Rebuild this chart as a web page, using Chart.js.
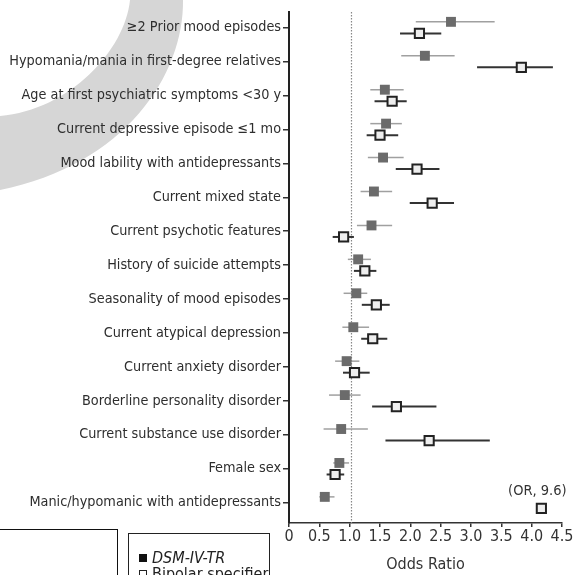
<!DOCTYPE html>
<html>
<head>
<meta charset="utf-8">
<script src="https://cdn.jsdelivr.net/npm/chart.js@4"></script>
<style>
  body { margin: 0; background: #fff; overflow: hidden; }
  #wrap { position: relative; width: 574px; height: 575px; overflow: hidden; }
  .box1 { position: absolute; left: 0; top: 529px; width: 117px; height: 60px; border-top: 1.5px solid #111; border-right: 1.5px solid #111; }
  .legend { position: absolute; left: 128px; top: 533px; width: 140px; height: 60px; border: 1.5px solid #222;
    font-family: "DejaVu Sans Condensed", "Liberation Sans Narrow", sans-serif; font-size: 16px; line-height: 15px; color: #222; }
  .legend div { position: absolute; left: 10px; white-space: nowrap; }
  .sq { display: inline-block; width: 8px; height: 8px; margin-right: 5px; vertical-align: 1px; }
</style>
</head>
<body>
<div id="wrap">
  <canvas id="myChart" width="574" height="575"></canvas>
  <div class="box1"></div>
  <div class="legend">
    <div style="top: 16px;"><span class="sq" style="background:#111;"></span><i>DSM-IV-TR</i></div>
    <div style="top: 32px;"><span class="sq" style="border:1px solid #222;width:6px;height:6px;"></span>Bipolar specifier</div>
  </div>
</div>
<script>
const FONT = "'DejaVu Sans Condensed', 'Liberation Sans Narrow', sans-serif";

const categories = [
  "\u22652 Prior mood episodes",
  "Hypomania/mania in first-degree relatives",
  "Age at first psychiatric symptoms <30 y",
  "Current depressive episode \u22641 mo",
  "Mood lability with antidepressants",
  "Current mixed state",
  "Current psychotic features",
  "History of suicide attempts",
  "Seasonality of mood episodes",
  "Current atypical depression",
  "Current anxiety disorder",
  "Borderline personality disorder",
  "Current substance use disorder",
  "Female sex",
  "Manic/hypomanic with antidepressants",
];

// DSM-IV-TR odds ratios and 95% CI
const dsmOR = [2.67, 2.24, 1.58, 1.60, 1.55, 1.40, 1.36, 1.14, 1.11, 1.06, 0.95, 0.92, 0.86, 0.83, 0.59];
const dsmLo = [2.09, 1.85, 1.34, 1.34, 1.30, 1.18, 1.12, 0.97, 0.90, 0.88, 0.76, 0.66, 0.57, 0.73, 0.50];
const dsmHi = [3.39, 2.73, 1.89, 1.86, 1.89, 1.70, 1.70, 1.35, 1.29, 1.32, 1.16, 1.18, 1.30, 0.99, 0.75];

// Bipolar specifier odds ratios and 95% CI (last one is off scale, OR 9.6)
const bipOR = [2.15, 3.83, 1.70, 1.50, 2.11, 2.36, 0.90, 1.25, 1.44, 1.38, 1.08, 1.77, 2.31, 0.76, 4.16];
const bipLo = [1.83, 3.10, 1.41, 1.28, 1.76, 1.99, 0.72, 1.07, 1.20, 1.19, 0.89, 1.37, 1.59, 0.62, null];
const bipHi = [2.51, 4.35, 1.94, 1.80, 2.48, 2.72, 1.07, 1.44, 1.66, 1.62, 1.33, 2.43, 3.31, 0.91, null];
const offscaleNote = "(OR, 9.6)";

const xTicks = [0, 0.5, 1, 1.5, 2, 2.5, 3, 3.5, 4, 4.5];
const refOR = 1.03;

// decorative gray arc in the corner of the scan
const arcPlugin = {
  id: "arc",
  beforeDraw(chart) {
    const c = chart.ctx;
    c.save();
    c.fillStyle = "#d6d6d6";
    c.beginPath();
    c.moveTo(183, 0);
    c.bezierCurveTo(184, 75, 125, 165, 0, 190);
    c.lineTo(0, 116);
    c.bezierCurveTo(70, 110, 125, 50, 130, 0);
    c.closePath();
    c.fill();
    c.restore();
  },
};

const errorBars = {
  id: "errorBars",
  beforeDatasetsDraw(chart) {
    const c = chart.ctx, xs = chart.scales.x, ys = chart.scales.y, a = chart.chartArea;
    c.save();
    // reference line at OR = 1
    c.strokeStyle = "#888";
    c.lineWidth = 1.2;
    c.setLineDash([1.5, 1.5]);
    c.beginPath();
    c.moveTo(xs.getPixelForValue(refOR), a.top);
    c.lineTo(xs.getPixelForValue(refOR), a.bottom);
    c.stroke();
    c.setLineDash([]);
    categories.forEach((cat, i) => {
      let y = ys.getPixelForValue(i - 0.17);
      c.strokeStyle = "#a0a0a0";
      c.lineWidth = 1.5;
      c.beginPath();
      c.moveTo(xs.getPixelForValue(dsmLo[i]), y);
      c.lineTo(xs.getPixelForValue(dsmHi[i]), y);
      c.stroke();
      if (bipLo[i] != null) {
        y = ys.getPixelForValue(i + 0.17);
        c.strokeStyle = "#333";
        c.lineWidth = 2;
        c.beginPath();
        c.moveTo(xs.getPixelForValue(bipLo[i]), y);
        c.lineTo(xs.getPixelForValue(bipHi[i]), y);
        c.stroke();
      }
    });
    c.restore();
  },
  afterDatasetsDraw(chart) {
    const c = chart.ctx, xs = chart.scales.x, ys = chart.scales.y;
    const last = categories.length - 1;
    c.save();
    c.fillStyle = "#333";
    c.font = "14.5px " + FONT;
    c.textAlign = "center";
    c.textBaseline = "middle";
    c.fillText(offscaleNote, xs.getPixelForValue(bipOR[last]) - 4, ys.getPixelForValue(last + 0.17) - 17);
    c.restore();
  },
};

const ctx = document.getElementById("myChart").getContext("2d");
const myChart = new Chart(ctx, {
  type: "scatter",
  data: {
    datasets: [
      {
        label: "DSM-IV-TR",
        data: dsmOR.map((v, i) => ({ x: v, y: i - 0.17 })),
        pointStyle: "rect",
        pointRadius: 7,
        backgroundColor: "#6b6b6b",
        borderColor: "#6b6b6b",
        borderWidth: 0,
      },
      {
        label: "Bipolar specifier",
        data: bipOR.map((v, i) => ({ x: v, y: i + 0.17 })),
        pointStyle: "rect",
        pointRadius: 6.5,
        backgroundColor: "#eeeeee",
        borderColor: "#222",
        borderWidth: 2,
      },
    ],
  },
  options: {
    responsive: false,
    animation: false,
    layout: { padding: { top: 12, right: 12, left: 0, bottom: 0 } },
    scales: {
      x: {
        type: "linear",
        min: 0,
        max: 4.5,
        afterFit: (s) => { s.height = 52; },
        afterBuildTicks: (s) => { s.ticks = xTicks.map((v) => ({ value: v })); },
        grid: { drawOnChartArea: false, drawTicks: true, tickLength: 4, color: "#333", lineWidth: 1.5 },
        border: { color: "#333", width: 1.5 },
        ticks: {
          color: "#333",
          padding: 0,
          autoSkip: false,
          maxRotation: 0,
          font: { family: FONT, size: 16 },
          callback: (v) => (v === 0 ? "0" : v.toFixed(1)),
        },
        title: {
          display: true,
          text: "Odds Ratio",
          color: "#333",
          font: { family: FONT, size: 16 },
          padding: { top: 0, bottom: 1 },
        },
      },
      y: {
        type: "linear",
        reverse: true,
        min: -0.46,
        max: 14.6,
        afterFit: (s) => { s.width = 289; },
        afterBuildTicks: (s) => { s.ticks = categories.map((c, i) => ({ value: i })); },
        grid: { drawOnChartArea: false, drawTicks: true, tickLength: 6, color: "#333", lineWidth: 1.5 },
        border: { color: "#222", width: 2 },
        ticks: {
          autoSkip: false,
          color: "#2e2e2e",
          padding: 2,
          font: { family: FONT, size: 14.3 },
          callback: (v) => categories[v],
        },
      },
    },
    plugins: {
      legend: { display: false },
      tooltip: { enabled: false },
    },
  },
  plugins: [arcPlugin, errorBars],
});
</script>
</body>
</html>
